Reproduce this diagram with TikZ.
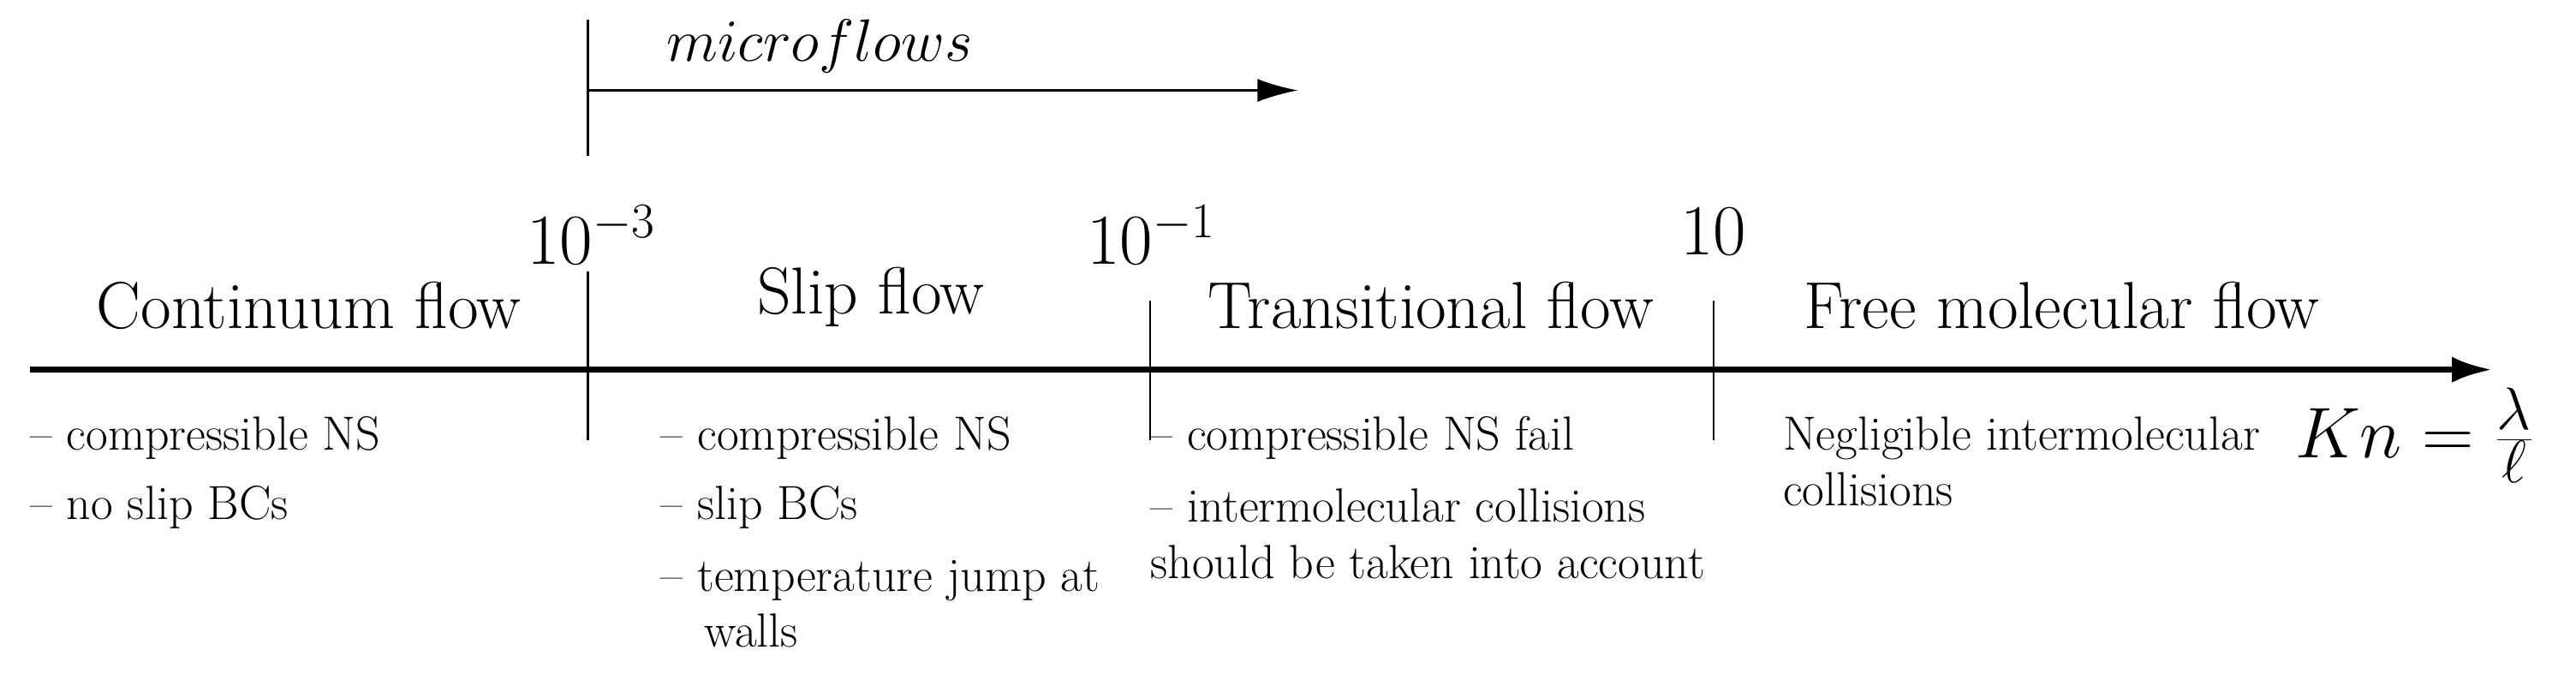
\documentclass[tikz,border=0pt]{standalone}
\usetikzlibrary{arrows.meta}
\begin{document}
\begin{tikzpicture}[x=0.02cm,y=-0.02cm,
  big/.style={font=\fontsize{23}{27}\selectfont, inner sep=0pt},
  num/.style={font=\fontsize{27}{31}\selectfont, inner sep=0pt},
  small/.style={font=\fontsize{16.6}{19.5}\selectfont, inner sep=0pt, anchor=base west, align=left},
  tick/.style={line width=0.8pt}]
\useasboundingbox (0,0) rectangle (1568,410);
% axis
\coordinate (a0) at (18,225); \coordinate (a1) at (1517,225);
\draw[line width=2.2pt,-{Latex[length=14pt,width=9pt]}] (a0) -- (a1);
% ticks
\coordinate (t1a) at (358,165); \coordinate (t1b) at (358,268);
\coordinate (t2a) at (700,183); \coordinate (t2b) at (700,268);
\coordinate (t3a) at (1043,183); \coordinate (t3b) at (1043,268);
\draw[tick] (t1a) -- (t1b);
\draw[tick] (t2a) -- (t2b);
\draw[tick] (t3a) -- (t3b);
% microflows
\coordinate (m0) at (358,12); \coordinate (m1) at (358,95);
\coordinate (ms) at (358,55); \coordinate (me) at (790,55);
\draw[tick] (m0) -- (m1);
\draw[tick,-{Latex[length=14pt,width=8pt]}] (ms) -- (me);
\node[font=\fontsize{20.7}{24}\selectfont, inner sep=0pt] (mf) at (499,28) {$microflows$};
% values
\node[num] (v1) at (360,143) {$10^{-3}$};
\node[num] (v2) at (701,143) {$10^{-1}$};
\node[num] (v3) at (1043,141) {$10$};
% regimes
\node[big] (r1) at (188,186) {Continuum flow};
\node[big] (r2) at (530,181) {Slip flow};
\node[big] (r3) at (871,186) {Transitional flow};
\node[big] (r4) at (1255,186) {Free molecular flow};
% lists
\node[small] (c1) at (18,274) {-- compressible NS};
\node[small] (c2) at (18,316) {-- no slip BCs};
\node[small] (s1) at (402,274) {-- compressible NS};
\node[small] (s2) at (402,316) {-- slip BCs};
\node[small] (s3) at (402,394) {-- temperature jump at\\\hspace*{0.9em}walls};
\node[small] (tr1) at (700,274) {-- compressible NS fail};
\node[small] (tr2) at (700,352) {-- intermolecular collisions\\should be taken into account};
\node[small] (f1) at (1085,308) {Negligible intermolecular\\collisions};
% Kn
\node[font=\fontsize{29}{34}\selectfont, inner sep=0pt] (kn) at (1470,265) {$Kn=\frac{\lambda}{\ell}$};
\end{tikzpicture}
\end{document}
